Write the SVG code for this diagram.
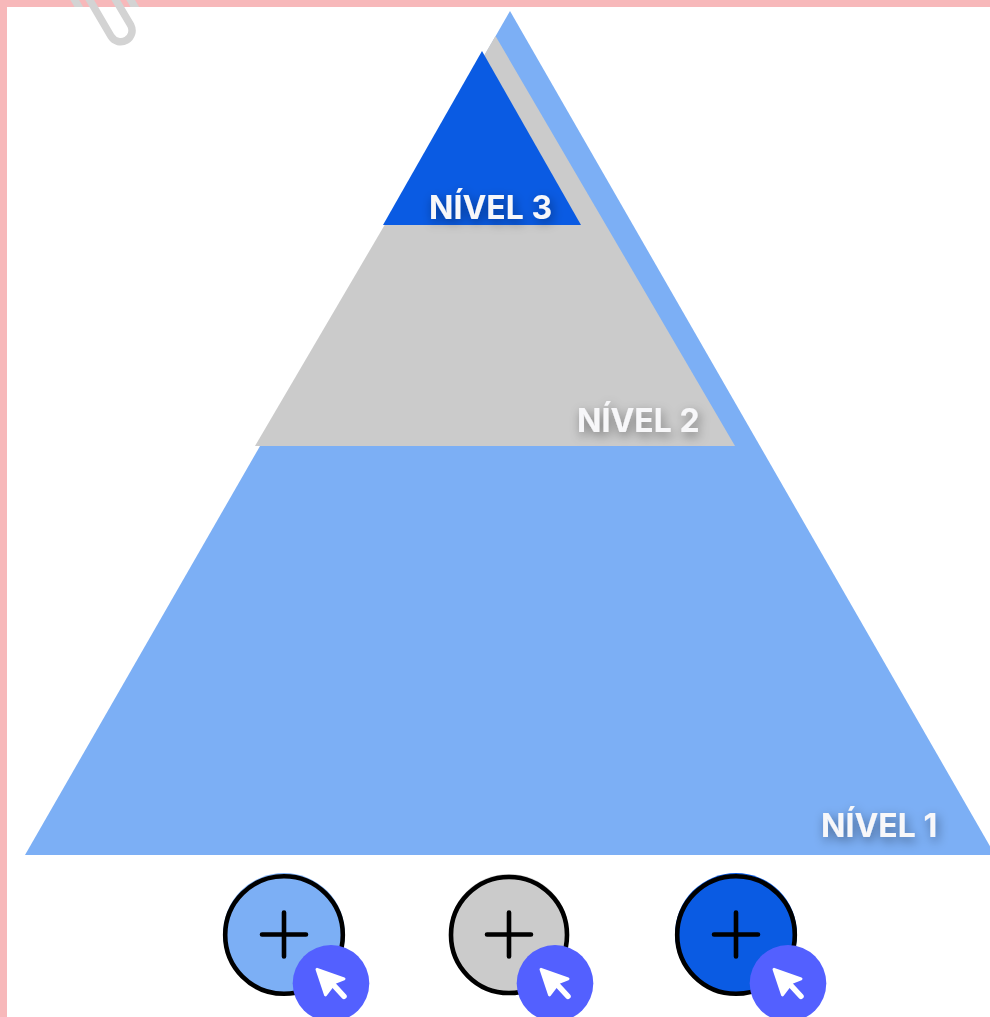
<svg xmlns="http://www.w3.org/2000/svg" width="990" height="1017" viewBox="0 0 990 1017">
<style>
.lbl{font-family:"Inter","Liberation Sans",sans-serif;font-weight:700;font-size:32px;fill:#f7f7f9;filter:url(#sh)}
.ring{stroke:#000;stroke-width:4.600;fill:none}
.plus{stroke:#000;stroke-width:4.600;stroke-linecap:round;fill:none}
.badge{fill:#5360ff}
.arrow{fill:#fff;stroke:#fff;stroke-width:3;stroke-linejoin:round}
.tail{stroke:#fff;stroke-width:5.500;stroke-linecap:round}
.cl{fill:none;stroke:#d3d3d3;stroke-width:7.500}
</style>
<defs>
<filter id="sh" x="-20%" y="-60%" width="140%" height="240%"><feDropShadow dx="2" dy="4" stdDeviation="5.500" flood-color="#000" flood-opacity="0.42"/></filter>
<clipPath id="top"><rect x="60" y="0" width="90" height="7"/></clipPath>
<g id="cur"><circle class="badge" r="38.300"/><path class="arrow" d="M-14,-14 L13,-4.500 L4,-1 L-5.500,11.500 Z"/><line class="tail" x1="1" y1="0" x2="13" y2="13"/></g>
</defs>
<rect width="990" height="1017" fill="#fff"/>
<path id="frame" d="M0,0H990V7H7V1017H0Z" fill="#f7b8ba"/>
<g id="clip">
<path class="cl" d="M88,-3 L111.200,36.600 A11.300,11.300 0 0 0 130.800,25.400 L114,-3"/>
<g clip-path="url(#top)"><path class="cl" d="M73,-3 L80,9M129,-3 L136,9"/></g>
</g>
<g id="level1"><path d="M510,11 L995,855 H25 Z" fill="#7cafF5"/><text class="lbl" x="821" y="837">NÍVEL 1</text></g>
<g id="level2"><path d="M495.500,36 L735,446 H255 Z" fill="#cbcbcb"/><text class="lbl" x="577" y="432">NÍVEL 2</text></g>
<g id="level3"><path d="M482,51 L581,225 H383 Z" fill="#0a5be3"/><text class="lbl" x="429" y="219">NÍVEL 3</text></g>
<g id="btn1"><circle cx="284" cy="934" r="61" fill="#7cafF5"/><circle class="ring" cx="284" cy="935" r="58.800"/><path class="plus" d="M262,934.500H306M284,912.500V956.500"/><use href="#cur" x="331" y="983.300"/></g>
<g id="btn2"><circle cx="509" cy="934" r="60" fill="#cbcbcb"/><circle class="ring" cx="509" cy="935" r="58"/><path class="plus" d="M487,934.500H531M509,912.500V956.500"/><use href="#cur" x="555" y="983.300"/></g>
<g id="btn3"><circle cx="736" cy="934" r="61" fill="#0a5be3"/><circle class="ring" cx="736" cy="935" r="58.800"/><path class="plus" d="M714,934.500H758M736,912.500V956.500"/><use href="#cur" x="788" y="983.300"/></g>
<g id="connectors"></g>
</svg>
